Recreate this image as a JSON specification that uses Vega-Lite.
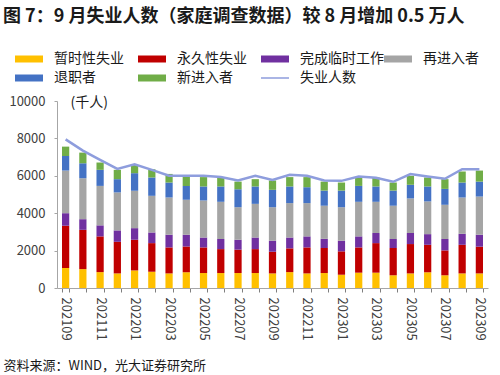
{
  "$schema": "https://vega.github.io/schema/vega-lite/v6.json",
  "autosize": "none",
  "width": 431,
  "height": 187,
  "padding": {"left": 57, "top": 101, "right": 12, "bottom": 87},
  "background": "white",
  "config": {
    "font": "Noto Sans CJK SC",
    "view": {"stroke": null}
  },
  "title": {
    "text": "图 7：9 月失业人数（家庭调查数据）较 8 月增加 0.5 万人",
    "anchor": "start",
    "frame": "group",
    "dx": -54,
    "offset": 26,
    "fontSize": 18,
    "fontWeight": "bold",
    "color": "#1a1a1a",
    "font": "Noto Sans CJK SC"
  },
  "datasets": {
    "bars": [
      {"m":"202109","c":"暂时性失业","v":1070,"o":1},{"m":"202109","c":"永久性失业","v":2260,"o":2},{"m":"202109","c":"完成临时工作","v":670,"o":3},{"m":"202109","c":"再进入者","v":2280,"o":4},{"m":"202109","c":"退职者","v":780,"o":5},{"m":"202109","c":"新进入者","v":500,"o":6},
      {"m":"202110","c":"暂时性失业","v":1010,"o":1},{"m":"202110","c":"永久性失业","v":2100,"o":2},{"m":"202110","c":"完成临时工作","v":570,"o":3},{"m":"202110","c":"再进入者","v":2190,"o":4},{"m":"202110","c":"退职者","v":800,"o":5},{"m":"202110","c":"新进入者","v":570,"o":6},
      {"m":"202111","c":"暂时性失业","v":850,"o":1},{"m":"202111","c":"永久性失业","v":1910,"o":2},{"m":"202111","c":"完成临时工作","v":590,"o":3},{"m":"202111","c":"再进入者","v":2110,"o":4},{"m":"202111","c":"退职者","v":860,"o":5},{"m":"202111","c":"新进入者","v":390,"o":6},
      {"m":"202112","c":"暂时性失业","v":780,"o":1},{"m":"202112","c":"永久性失业","v":1690,"o":2},{"m":"202112","c":"完成临时工作","v":610,"o":3},{"m":"202112","c":"再进入者","v":2030,"o":4},{"m":"202112","c":"退职者","v":710,"o":5},{"m":"202112","c":"新进入者","v":500,"o":6},
      {"m":"202201","c":"暂时性失业","v":940,"o":1},{"m":"202201","c":"永久性失业","v":1640,"o":2},{"m":"202201","c":"完成临时工作","v":620,"o":3},{"m":"202201","c":"再进入者","v":2000,"o":4},{"m":"202201","c":"退职者","v":940,"o":5},{"m":"202201","c":"新进入者","v":440,"o":6},
      {"m":"202202","c":"暂时性失业","v":870,"o":1},{"m":"202202","c":"永久性失业","v":1530,"o":2},{"m":"202202","c":"完成临时工作","v":570,"o":3},{"m":"202202","c":"再进入者","v":1960,"o":4},{"m":"202202","c":"退职者","v":980,"o":5},{"m":"202202","c":"新进入者","v":440,"o":6},
      {"m":"202203","c":"暂时性失业","v":780,"o":1},{"m":"202203","c":"永久性失业","v":1390,"o":2},{"m":"202203","c":"完成临时工作","v":680,"o":3},{"m":"202203","c":"再进入者","v":1990,"o":4},{"m":"202203","c":"退职者","v":800,"o":5},{"m":"202203","c":"新进入者","v":460,"o":6},
      {"m":"202204","c":"暂时性失业","v":840,"o":1},{"m":"202204","c":"永久性失业","v":1380,"o":2},{"m":"202204","c":"完成临时工作","v":630,"o":3},{"m":"202204","c":"再进入者","v":1870,"o":4},{"m":"202204","c":"退职者","v":740,"o":5},{"m":"202204","c":"新进入者","v":470,"o":6},
      {"m":"202205","c":"暂时性失业","v":800,"o":1},{"m":"202205","c":"永久性失业","v":1370,"o":2},{"m":"202205","c":"完成临时工作","v":530,"o":3},{"m":"202205","c":"再进入者","v":1980,"o":4},{"m":"202205","c":"退职者","v":750,"o":5},{"m":"202205","c":"新进入者","v":500,"o":6},
      {"m":"202206","c":"暂时性失业","v":800,"o":1},{"m":"202206","c":"永久性失业","v":1280,"o":2},{"m":"202206","c":"完成临时工作","v":540,"o":3},{"m":"202206","c":"再进入者","v":1990,"o":4},{"m":"202206","c":"退职者","v":820,"o":5},{"m":"202206","c":"新进入者","v":500,"o":6},
      {"m":"202207","c":"暂时性失业","v":800,"o":1},{"m":"202207","c":"永久性失业","v":1250,"o":2},{"m":"202207","c":"完成临时工作","v":530,"o":3},{"m":"202207","c":"再进入者","v":1740,"o":4},{"m":"202207","c":"退职者","v":960,"o":5},{"m":"202207","c":"新进入者","v":410,"o":6},
      {"m":"202208","c":"暂时性失业","v":800,"o":1},{"m":"202208","c":"永久性失业","v":1280,"o":2},{"m":"202208","c":"完成临时工作","v":620,"o":3},{"m":"202208","c":"再进入者","v":1800,"o":4},{"m":"202208","c":"退职者","v":930,"o":5},{"m":"202208","c":"新进入者","v":390,"o":6},
      {"m":"202209","c":"暂时性失业","v":780,"o":1},{"m":"202209","c":"永久性失业","v":1160,"o":2},{"m":"202209","c":"完成临时工作","v":590,"o":3},{"m":"202209","c":"再进入者","v":1790,"o":4},{"m":"202209","c":"退职者","v":930,"o":5},{"m":"202209","c":"新进入者","v":500,"o":6},
      {"m":"202210","c":"暂时性失业","v":850,"o":1},{"m":"202210","c":"永久性失业","v":1270,"o":2},{"m":"202210","c":"完成临时工作","v":580,"o":3},{"m":"202210","c":"再进入者","v":1840,"o":4},{"m":"202210","c":"退职者","v":890,"o":5},{"m":"202210","c":"新进入者","v":500,"o":6},
      {"m":"202211","c":"暂时性失业","v":780,"o":1},{"m":"202211","c":"永久性失业","v":1390,"o":2},{"m":"202211","c":"完成临时工作","v":590,"o":3},{"m":"202211","c":"再进入者","v":1780,"o":4},{"m":"202211","c":"退职者","v":850,"o":5},{"m":"202211","c":"新进入者","v":540,"o":6},
      {"m":"202212","c":"暂时性失业","v":800,"o":1},{"m":"202212","c":"永久性失业","v":1340,"o":2},{"m":"202212","c":"完成临时工作","v":490,"o":3},{"m":"202212","c":"再进入者","v":1770,"o":4},{"m":"202212","c":"退职者","v":810,"o":5},{"m":"202212","c":"新进入者","v":480,"o":6},
      {"m":"202301","c":"暂时性失业","v":710,"o":1},{"m":"202301","c":"永久性失业","v":1250,"o":2},{"m":"202301","c":"完成临时工作","v":570,"o":3},{"m":"202301","c":"再进入者","v":1790,"o":4},{"m":"202301","c":"退职者","v":890,"o":5},{"m":"202301","c":"新进入者","v":430,"o":6},
      {"m":"202302","c":"暂时性失业","v":820,"o":1},{"m":"202302","c":"永久性失业","v":1350,"o":2},{"m":"202302","c":"完成临时工作","v":590,"o":3},{"m":"202302","c":"再进入者","v":1850,"o":4},{"m":"202302","c":"退职者","v":850,"o":5},{"m":"202302","c":"新进入者","v":470,"o":6},
      {"m":"202303","c":"暂时性失业","v":820,"o":1},{"m":"202303","c":"永久性失业","v":1580,"o":2},{"m":"202303","c":"完成临时工作","v":540,"o":3},{"m":"202303","c":"再进入者","v":1670,"o":4},{"m":"202303","c":"退职者","v":820,"o":5},{"m":"202303","c":"新进入者","v":480,"o":6},
      {"m":"202304","c":"暂时性失业","v":680,"o":1},{"m":"202304","c":"永久性失业","v":1460,"o":2},{"m":"202304","c":"完成临时工作","v":480,"o":3},{"m":"202304","c":"再进入者","v":1780,"o":4},{"m":"202304","c":"退职者","v":810,"o":5},{"m":"202304","c":"新进入者","v":430,"o":6},
      {"m":"202305","c":"暂时性失业","v":780,"o":1},{"m":"202305","c":"永久性失业","v":1570,"o":2},{"m":"202305","c":"完成临时工作","v":590,"o":3},{"m":"202305","c":"再进入者","v":1850,"o":4},{"m":"202305","c":"退职者","v":730,"o":5},{"m":"202305","c":"新进入者","v":480,"o":6},
      {"m":"202306","c":"暂时性失业","v":840,"o":1},{"m":"202306","c":"永久性失业","v":1470,"o":2},{"m":"202306","c":"完成临时工作","v":570,"o":3},{"m":"202306","c":"再进入者","v":1750,"o":4},{"m":"202306","c":"退职者","v":800,"o":5},{"m":"202306","c":"新进入者","v":480,"o":6},
      {"m":"202307","c":"暂时性失业","v":680,"o":1},{"m":"202307","c":"永久性失业","v":1330,"o":2},{"m":"202307","c":"完成临时工作","v":610,"o":3},{"m":"202307","c":"再进入者","v":1830,"o":4},{"m":"202307","c":"退职者","v":850,"o":5},{"m":"202307","c":"新进入者","v":520,"o":6},
      {"m":"202308","c":"暂时性失业","v":780,"o":1},{"m":"202308","c":"永久性失业","v":1530,"o":2},{"m":"202308","c":"完成临时工作","v":590,"o":3},{"m":"202308","c":"再进入者","v":1940,"o":4},{"m":"202308","c":"退职者","v":800,"o":5},{"m":"202308","c":"新进入者","v":590,"o":6},
      {"m":"202309","c":"暂时性失业","v":780,"o":1},{"m":"202309","c":"永久性失业","v":1430,"o":2},{"m":"202309","c":"完成临时工作","v":640,"o":3},{"m":"202309","c":"再进入者","v":2040,"o":4},{"m":"202309","c":"退职者","v":800,"o":5},{"m":"202309","c":"新进入者","v":590,"o":6}
    ],
    "line": [
      {"m":"202109","v":7950},{"m":"202110","v":7350},{"m":"202111","v":6850},{"m":"202112","v":6370},
      {"m":"202201","v":6620},{"m":"202202","v":6320},{"m":"202203","v":6000},{"m":"202204","v":6000},
      {"m":"202205","v":6000},{"m":"202206","v":5930},{"m":"202207","v":5750},{"m":"202208","v":6000},
      {"m":"202209","v":5780},{"m":"202210","v":6050},{"m":"202211","v":6000},{"m":"202212","v":5750},
      {"m":"202301","v":5730},{"m":"202302","v":5960},{"m":"202303","v":5890},{"m":"202304","v":5680},
      {"m":"202305","v":6090},{"m":"202306","v":5960},{"m":"202307","v":5840},{"m":"202308","v":6350},
      {"m":"202309","v":6350}
    ]
  },
  "encoding": {
    "x": {
      "field": "m",
      "type": "ordinal",
      "sort": null,
      "scale": {"paddingInner": 0.58, "paddingOuter": 0.29},
      "axis": {
        "title": "资料来源：WIND，光大证券研究所",
        "titleFont": "Noto Sans CJK SC",
        "titleFontSize": 13,
        "titleFontWeight": "normal",
        "titleColor": "#1a1a1a",
        "titleAnchor": "start",
        "titleAlign": "left",
        "titleBaseline": "middle",
        "titleX": -54,
        "titleY": 77,
        "labelAngle": 90,
        "labelAlign": "left",
        "labelBaseline": "middle",
        "labelFontSize": 13,
        "labelColor": "#404040",
        "labelPadding": 5,
        "labelExpr": "toNumber(substring(datum.label,4,6)) % 2 === 1 ? datum.label : ''",
        "tickBand": "extent",
        "tickSize": 4,
        "tickColor": "#7f7f7f",
        "domainColor": "#a6a6a6",
        "domainWidth": 1,
        "encode": {
          "ticks": {"update": {"opacity": {"signal": "toNumber(substring(datum.value,4,6)) % 2 === 1 ? 1 : 0"}}}
        }
      }
    },
    "y": {
      "field": "v",
      "type": "quantitative",
      "scale": {"domain": [0, 10000], "nice": false},
      "axis": {
        "title": "(千人)",
        "titleAngle": 0,
        "titleAlign": "left",
        "titleBaseline": "middle",
        "titleX": 13,
        "titleY": 1,
        "titleFontSize": 14,
        "titleFontWeight": "normal",
        "titleColor": "#1a1a1a",
        "values": [0, 2000, 4000, 6000, 8000, 10000],
        "format": "d",
        "labelOverlap": false,
        "labelSeparation": 0,
        "labelBound": false,
        "labelFlush": false,
        "grid": false,
        "labelFontSize": 13,
        "labelColor": "#404040",
        "labelPadding": 9,
        "tickSize": 3,
        "tickColor": "#a6a6a6",
        "domainColor": "#a6a6a6"
      }
    }
  },
  "layer": [
    {
      "data": {"name": "bars"},
      "mark": {"type": "bar"},
      "encoding": {
        "y": {"field": "v", "type": "quantitative", "stack": "zero"},
        "color": {
          "field": "c",
          "type": "nominal",
          "scale": {
            "domain": ["暂时性失业", "永久性失业", "完成临时工作", "再进入者", "退职者", "新进入者", "失业人数"],
            "range": ["#FFC000", "#C00000", "#7030A0", "#A5A5A5", "#4472C4", "#70AD47", "#8E9DDD"]
          },
          "legend": {
            "title": null,
            "orient": "none",
            "legendX": -42,
            "legendY": -49,
            "direction": "horizontal",
            "columns": 4,
            "gridAlign": "all",
            "columnPadding": -8,
            "rowPadding": 5,
            "padding": 0,
            "labelFontSize": 14,
            "labelColor": "#1a1a1a",
            "labelOffset": 18,
            "symbolOffset": 7,
            "labelLimit": 200,
            "symbolSize": 784,
            "encode": {
              "symbols": {
                "update": {
                  "shape": {"signal": "datum.value === '失业人数' ? 'M-1,0L1,0' : 'M-1,-0.25L1,-0.25L1,0.25L-1,0.25Z'"},
                  "fill": {"signal": "scale('color', datum.value)"},
                  "stroke": {"signal": "scale('color', datum.value)"},
                  "strokeWidth": {"signal": "datum.value === '失业人数' ? 1.5 : 0"},
                  "opacity": {"value": 1},
                  "fillOpacity": {"value": 1}
                }
              }
            }
          }
        },
        "order": {"field": "o", "type": "quantitative", "sort": "ascending"}
      }
    },
    {
      "data": {"name": "line"},
      "mark": {"type": "line", "strokeWidth": 2.5},
      "encoding": {
        "color": {"datum": "失业人数"}
      }
    }
  ]
}
